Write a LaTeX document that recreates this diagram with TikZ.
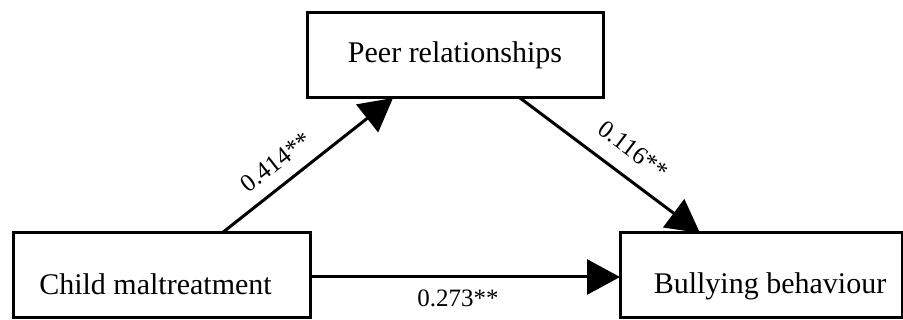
\documentclass[tikz,border=0pt]{standalone}
\usepackage{fontspec}
\setmainfont{Liberation Serif}
\usetikzlibrary{arrows.meta}
\begin{document}
\begin{tikzpicture}[x=1pt,y=-1pt,
  boxnode/.style={draw=black,line width=3pt,minimum height=85pt,inner sep=0pt,fill=white},
  boxtext/.style={font=\fontsize{30}{36}\selectfont,anchor=base,inner sep=0pt},
  coef/.style={font=\fontsize{25}{30}\selectfont,inner sep=0pt},
  path/.style={line width=3pt,-{Triangle[length=33pt,width=35pt]}}]
\useasboundingbox (0,0) rectangle (903,320);
\node[boxnode,minimum width=297pt] (child) at (161.5,275.5) {};
\node[boxnode,minimum width=296pt] (peer) at (455,55.5) {};
\node[boxnode,minimum width=282pt] (bully) at (761,275.5) {};
\node[boxtext] (childt) at (155.5,295) {Child maltreatment};
\node[boxtext] (peert) at (455,63) {Peer relationships};
\node[boxtext] (bullyt) at (770,294) {Bullying behaviour};
\coordinate (c1) at (222,233);
\coordinate (p1) at (393,98);
\coordinate (p2) at (520,98);
\coordinate (b1) at (700,233);
\coordinate (c2) at (310,277);
\coordinate (b2) at (620,277);
\draw[path] (c1) -- (p1);
\draw[path] (p2) -- (b1);
\draw[path] (c2) -- (b2);
\node[coef,rotate=38] (l1) at (276,162) {0.414**};
\node[coef,rotate=-37] (l2) at (633,150) {0.116**};
\node[coef,anchor=base] (l3) at (458,307) {0.273**};
\end{tikzpicture}
\end{document}
